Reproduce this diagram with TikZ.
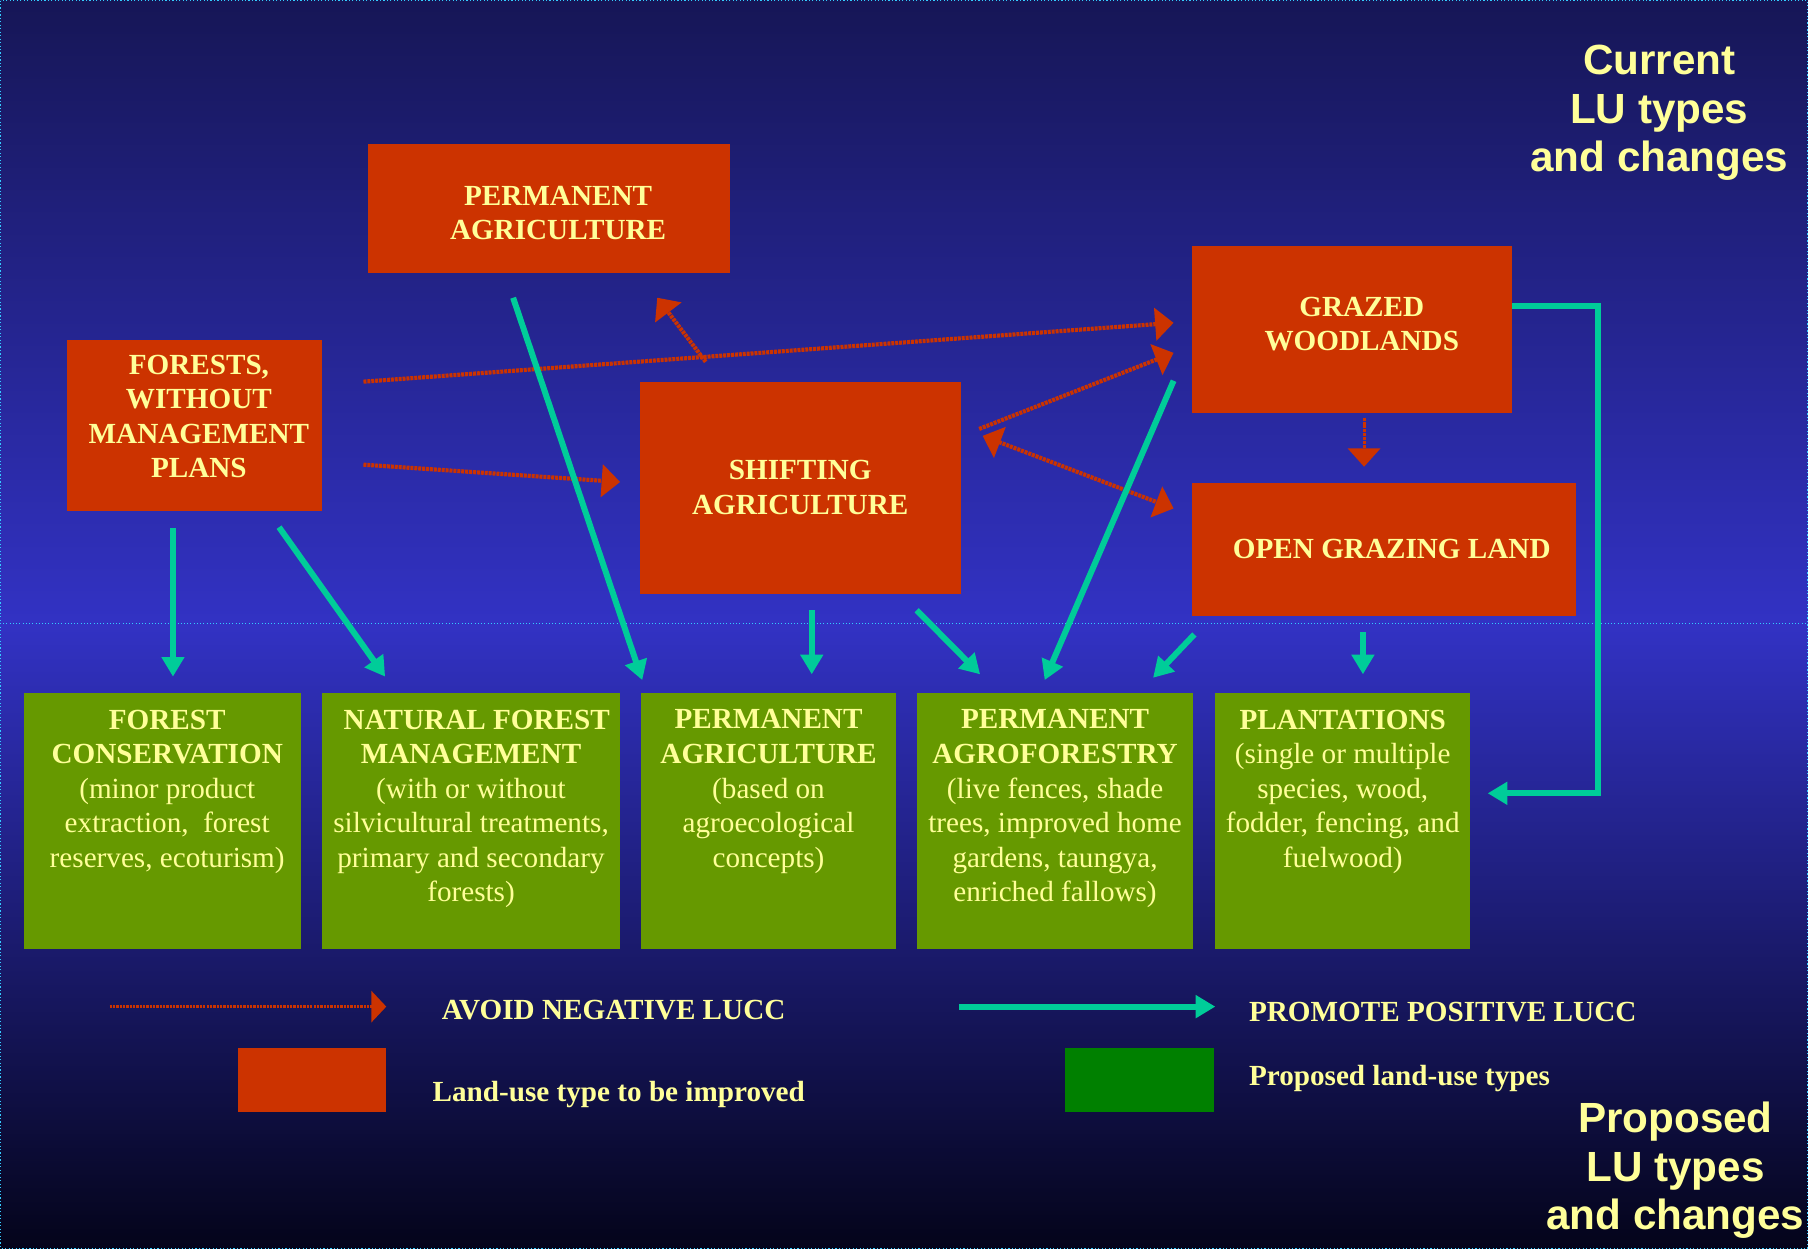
\documentclass[tikz,border=0pt]{standalone}
\usepackage{fontspec}
\setmainfont{Liberation Serif}
\newfontfamily\titlefont{Liberation Sans}
\usetikzlibrary{arrows.meta,calc}
\definecolor{bgtop}{RGB}{22,22,86}
\definecolor{bgmid}{RGB}{50,50,196}
\definecolor{bgbot}{RGB}{4,4,26}
\definecolor{redc}{HTML}{CC3300}
\definecolor{greenc}{HTML}{669900}
\definecolor{keygreen}{HTML}{008000}
\definecolor{tealc}{HTML}{00CC99}
\definecolor{txt}{HTML}{FFFF99}
\definecolor{cyandot}{HTML}{33CCFF}
\tikzset{
  rbox/.style={fill=redc, draw=none, inner sep=0pt, align=center, text=txt,
    font=\fontsize{25.3}{30}\selectfont\bfseries},
  gbox/.style={fill=greenc, draw=none, inner sep=0pt, text=txt, minimum height=222pt,
    font=\fontsize{25.3}{30}\selectfont},
  posarrow/.style={draw=tealc, line width=5.2pt, line join=miter,
    -{Triangle[width=19pt,length=17pt]}},
  negarrow/.style={draw=redc, line width=3.6pt, dash pattern=on 2.6pt off 0.8pt,
    -{Triangle[width=28pt,length=16pt]}},
  legtext/.style={text=txt, inner sep=0pt, font=\fontsize{25.3}{30}\selectfont\bfseries},
  titletext/.style={text=txt, inner sep=0pt, align=center,
    font=\titlefont\fontsize{36.6}{42}\selectfont\bfseries},
  keybox/.style={draw=none, inner sep=0pt, minimum width=129pt, minimum height=55pt}
}
\begin{document}
\begin{tikzpicture}[x=1pt,y=-1pt]
\useasboundingbox (0,0) rectangle (1568,1083);
\shade[top color=bgtop, bottom color=bgbot, middle color=bgmid] (0,0) rectangle (1568,1083);
\draw[cyandot, line width=0.8pt, dotted] (0,541) -- (1568,541);
\draw[cyandot, line width=1pt, dotted] (0.5,0.5) rectangle (1567.5,1082.5);

% titles
\node[titletext] (curtitle) at (1439,98) {Current\\LU types\\and changes};
\node[titletext] (proptitle) at (1453,1015) {Proposed\\LU types\\and changes};

% current land-use types
\node[rbox, minimum width=314pt, minimum height=112pt, text height=54.5pt] (permtop) at (476,181)
  {\hspace*{16pt}PERMANENT\\\hspace*{16pt}AGRICULTURE};
\node[rbox, minimum width=221pt, minimum height=148pt, text depth=16pt] (forests) at (168.5,369)
  {\hspace*{8pt}FORESTS,\\\hspace*{8pt}WITHOUT\\\hspace*{8pt}MANAGEMENT\\\hspace*{8pt}PLANS};
\node[rbox, minimum width=278pt, minimum height=184pt] (shifting) at (694,423) {SHIFTING\\AGRICULTURE};
\node[rbox, minimum width=277pt, minimum height=145pt, text depth=9pt] (grazed) at (1172.5,285.5)
  {\hspace*{17pt}GRAZED\\\hspace*{17pt}WOODLANDS};
\node[rbox, minimum width=333pt, minimum height=115pt] (open) at (1200.5,476.5) {\hspace*{13pt}OPEN GRAZING LAND};

% proposed land-use types
\node[gbox, minimum width=240pt] (fc) at (141,712) {\parbox[c][193pt][t]{236pt}{\centering
  \hspace*{8pt}\textbf{FOREST}\\\hspace*{8pt}\textbf{CONSERVATION}\\\hspace*{8pt}(minor product\\\hspace*{8pt}extraction,\ \ forest\\\hspace*{8pt}reserves, ecoturism)}};
\node[gbox, minimum width=259pt] (nfm) at (408.5,712) {\parbox[c][193pt][t]{255pt}{\centering
  \textbf{\hspace*{10pt}NATURAL FOREST\\MANAGEMENT}\\(with or without\\silvicultural treatments,\\primary and secondary\\forests)}};
\node[gbox, minimum width=221pt] (pa) at (666.5,712) {\parbox[c][193pt][t]{217pt}{\centering
  \textbf{PERMANENT\\AGRICULTURE}\\(based on\\agroecological\\concepts)}};
\node[gbox, minimum width=240pt] (paf) at (915,712) {\parbox[c][193pt][t]{236pt}{\centering
  \textbf{PERMANENT\\AGROFORESTRY}\\(live fences, shade\\trees, improved home\\gardens, taungya,\\enriched fallows)}};
\node[gbox, minimum width=221pt] (pl) at (1164.5,712) {\parbox[c][193pt][t]{217pt}{\centering
  \textbf{PLANTATIONS}\\(single or multiple\\species, wood,\\fodder, fencing, and\\fuelwood)}};

% negative changes (red dotted)
\draw[negarrow] ([shift={(36,-38)}]forests.east) -- ([shift={(-16,-5.5)}]grazed.west);
\draw[negarrow] ([shift={(36,34)}]forests.east) -- ([shift={(-17,-5)}]shifting.west);
\draw[negarrow] ([shift={(-82,-17)}]shifting.north) -- ([shift={(94,21)}]permtop.south);
\draw[negarrow] ([shift={(16,-51)}]shifting.east) -- ([shift={(-16,20.5)}]grazed.west);
\draw[negarrow, {Triangle[width=28pt,length=16pt]}-{Triangle[width=28pt,length=16pt]}]
  ([shift={(19,-45)}]shifting.east) -- ([shift={(-16,-35.5)}]open.west);
\draw[negarrow, line width=2.6pt] ([shift={(10.5,4)}]grazed.south) -- ([shift={(-17.5,-14)}]open.north);

% positive changes (teal)
\draw[posarrow] ([shift={(-18.5,15)}]forests.south) -- ([shift={(9,-14)}]fc.north);
\draw[posarrow] ([shift={(73.5,14)}]forests.south) -- ([shift={(-74.5,-14)}]nfm.north);
\draw[posarrow] ([shift={(-31,21)}]permtop.south) -- ([shift={(-109.5,-11)}]pa.north);
\draw[posarrow] ([shift={(10,14)}]shifting.south) -- ([shift={(37.5,-16)}]pa.north);
\draw[posarrow] ([shift={(101,14)}]shifting.south) -- ([shift={(-65,-16)}]paf.north);
\draw[posarrow] ([shift={(-16,-28)}]grazed.south west) -- ([shift={(-9,-11)}]paf.north);
\draw[posarrow] ([shift={(2,16)}]open.south west) -- ([shift={(85,-13)}]paf.north);
\draw[posarrow] ([shift={(-18.5,14)}]open.south) -- ([shift={(17.5,-16)}]pl.north);
\coordinate (loopcorner) at (1386,688);
\draw[posarrow] ([shift={(0,-20.5)}]grazed.east) -| (loopcorner) -- ([shift={(15,-24)}]pl.east);

% legend
\coordinate (negS) at (95,873);
\coordinate (negE) at (335,873);
\draw[negarrow, line width=2.8pt, dash pattern=on 2pt off 0.9pt, -{Triangle[width=27pt,length=13pt]}] (negS) -- (negE);
\node[legtext, anchor=base west] (negtxt) at (383,884) {AVOID NEGATIVE LUCC};
\node[keybox, fill=redc] (redkey) at (270.5,936.5) {};
\node[legtext, anchor=base west] (redkeytxt) at (375,955) {Land-use type to be improved};
\coordinate (posS) at (832,873);
\coordinate (posE) at (1054,873);
\draw[posarrow] (posS) -- (posE);
\node[legtext, anchor=base west] (postxt) at (1083,886) {PROMOTE POSITIVE LUCC};
\node[keybox, fill=keygreen] (greenkey) at (988.5,936.5) {};
\node[legtext, anchor=base west] (greenkeytxt) at (1083,941) {Proposed land-use types};
\end{tikzpicture}
\end{document}
